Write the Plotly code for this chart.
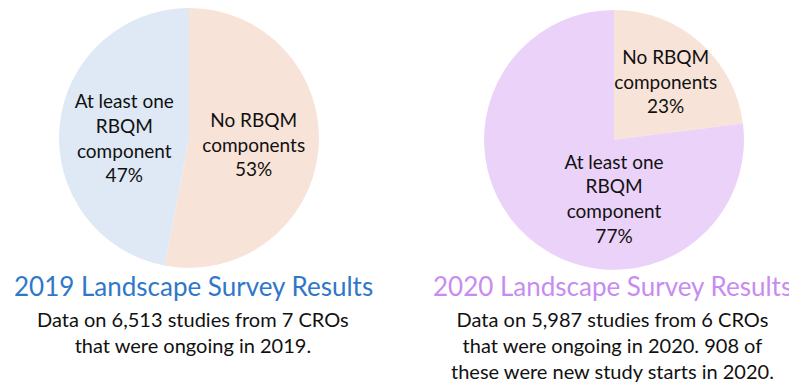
import plotly.graph_objects as go

labels = ["No RBQM components", "At least one RBQM component"]
values_2019 = [53, 47]
values_2020 = [23, 77]
slice_text = ["No RBQM<br>components", "At least one<br>RBQM<br>component"]
colors_2019 = ["#F8E3D8", "#DEE9F5"]
colors_2020 = ["#F8E3D8", "#EBD2F9"]

title_2019 = "2019 Landscape Survey Results"
sub_2019 = ["Data on 6,513 studies from 7 CROs", "that were ongoing in 2019."]
title_2020 = "2020 Landscape Survey Results"
sub_2020 = ["Data on 5,987 studies from 6 CROs", "that were ongoing in 2020. 908 of",
            "these were new study starts in 2020."]

FONT = "Lato"

def pie(values, colors, dom_x, dom_y):
    return go.Pie(
        labels=labels, values=values, sort=False, direction="clockwise", rotation=0,
        marker=dict(colors=colors, line=dict(width=0)),
        text=[f"{t}<br>{v}%" for t, v in zip(slice_text, values)],
        textinfo="text", textposition="inside", insidetextorientation="horizontal",
        textfont=dict(family=FONT, size=19, color="#111111"),
        hoverinfo="label+percent", showlegend=False,
        domain=dict(x=dom_x, y=dom_y),
    )

fig = go.Figure()
fig.add_trace(pie(values_2019, colors_2019, [49 / 797, 313 / 797], [0.325, 1.0]))
fig.add_trace(pie(values_2020, colors_2020, [474 / 797, 738 / 797], [0.32, 0.995]))

def ypx(y):
    return (385 - y) / 385

def add_block(xc, title, title_color, split_y, lines):
    fig.add_annotation(x=xc / 797, y=ypx(split_y), xref="paper", yref="paper",
                       text=title, showarrow=False, xanchor="center", yanchor="bottom",
                       font=dict(family=FONT, size=26, color=title_color))
    fig.add_annotation(x=xc / 797, y=ypx(split_y + 1), xref="paper", yref="paper",
                       text="<br>".join(lines), showarrow=False, xanchor="center",
                       yanchor="top", font=dict(family=FONT, size=20, color="#111111"))

add_block(185, title_2019, "#2F78C8", 296, sub_2019)
add_block(604, title_2020, "#C88CF0", 296, sub_2020)

fig.update_layout(width=797, height=385, margin=dict(l=0, r=0, t=0, b=0),
                  paper_bgcolor="white", plot_bgcolor="white",
                  uniformtext=dict(mode="show", minsize=19))
fig.write_html("out.html")
